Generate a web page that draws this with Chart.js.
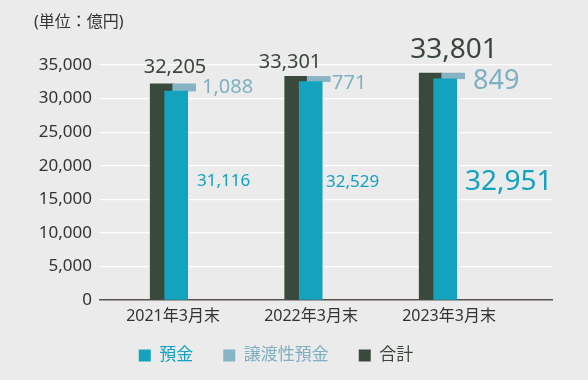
<!DOCTYPE html>
<html><head><meta charset="utf-8">
<script src="https://cdn.jsdelivr.net/npm/chart.js@4"></script>
<style>
html,body{margin:0;padding:0;background:#ebebeb;}
#wrap{width:588px;height:380px;position:relative;background:#ebebeb;}
</style></head>
<body><div id="wrap"><canvas id="c" width="588" height="380"></canvas></div>
<script>
const categories = ['2021年3月末', '2022年3月末', '2023年3月末'];
const deposits = [31116, 32529, 32951];      // 預金
const ncds = [1088, 771, 849];               // 譲渡性預金
const totals = [32205, 33301, 33801];        // 合計
const yTickValues = [0, 5000, 10000, 15000, 20000, 25000, 30000, 35000];
const seriesNames = ['預金', '譲渡性預金', '合計'];
const unitTitle = '(単位：億円)';

// styles (kept apart from data)
const colors = ['#14a3bf', '#87b3c4', '#394a3c'];
const textColors = ['#14a3bf', '#7fb0c2', '#39463b'];
const barShift = [-0.5, 7.5, -15];           // px shift of each series' bars from group centre
const totalFont = [20, 20, 28], totalDx = [2, -21, 5], totalDy = [-16, -14, -23];
const ncdFont = [20, 20, 27], ncdDx = [29, 21, 24], ncdDy = [4, 6.5, 8];
const depFont = [17, 17, 28], depDx = [24, 15, 16], depDy = [-14, -9, -7];
const FONT = '"Noto Sans", "Noto Sans CJK JP", sans-serif';

const fmt = v => v.toLocaleString('en-US');

const shiftPlugin = {
  id: 'shift',
  afterDatasetsUpdate(chart) {
    chart.data.datasets.forEach((ds, i) => {
      chart.getDatasetMeta(i).data.forEach(el => { el.x += barShift[i]; });
    });
  }
};

const labelPlugin = {
  id: 'vlabels',
  afterDatasetsDraw(chart) {
    const ctx = chart.ctx, xs = chart.scales.x, ys = chart.scales.y;
    ctx.save();
    ctx.textBaseline = 'middle';
    categories.forEach((c, i) => {
      const cx = xs.getPixelForValue(i);
      ctx.font = totalFont[i] + 'px ' + FONT;
      ctx.fillStyle = textColors[2];
      ctx.textAlign = 'center';
      ctx.fillText(fmt(totals[i]), cx + totalDx[i], ys.getPixelForValue(totals[i]) + totalDy[i]);
      ctx.font = ncdFont[i] + 'px ' + FONT;
      ctx.fillStyle = textColors[1];
      ctx.textAlign = 'left';
      ctx.fillText(fmt(ncds[i]), cx + ncdDx[i], ys.getPixelForValue(deposits[i] + ncds[i]) + ncdDy[i]);
      ctx.font = depFont[i] + 'px ' + FONT;
      ctx.fillStyle = textColors[0];
      ctx.fillText(fmt(deposits[i]), cx + depDx[i], ys.getPixelForValue(deposits[i] / 2) + depDy[i]);
    });
    ctx.font = '16px ' + FONT;
    ctx.fillStyle = '#333';
    ctx.textAlign = 'left';
    ctx.fillText(unitTitle, 34, 22);
    ctx.restore();
  }
};

new Chart(document.getElementById('c'), {
  type: 'bar',
  data: {
    datasets: [
      { label: seriesNames[0], xAxisID: 'xb', data: deposits.map((v, i) => ({ x: i, y: v })), backgroundColor: colors[0], stack: 'dep' },
      { label: seriesNames[1], xAxisID: 'xb', data: ncds.map((v, i) => ({ x: i, y: v })), backgroundColor: colors[1], stack: 'dep' },
      { label: seriesNames[2], xAxisID: 'xb', data: totals.map((v, i) => ({ x: i, y: v })), backgroundColor: colors[2], stack: 'tot' }
    ]
  },
  plugins: [shiftPlugin, labelPlugin],
  options: {
    responsive: false,
    animation: false,
    grouped: false,
    barThickness: 23,
    layout: { padding: { top: 65, right: 36, left: 0, bottom: 6 } },
    scales: {
      x: {
        type: 'linear',
        position: 'bottom',
        offset: false,
        min: -0.529, max: 2.746,
        afterBuildTicks: s => { s.ticks = categories.map((c, i) => ({ value: i })); },
        afterFit: s => { s.height = 17; },
        afterUpdate: s => { s._computeLabelArea = () => undefined; },
        ticks: { callback: v => categories[v], color: '#333', font: { family: FONT, size: 16 }, padding: 7, maxRotation: 0, autoSkip: false },
        grid: { display: false, drawTicks: false },
        border: { display: true, color: '#5a5250', width: 1.5 }
      },
      xb: {
        type: 'linear',
        position: 'bottom',
        display: false,
        offset: false,
        min: -0.5703, max: 2.7903
      },
      y: {
        stacked: true,
        min: 0, max: 35000,
        afterBuildTicks: s => { s.ticks = yTickValues.map(v => ({ value: v })); },
        afterFit: s => { s.width = 100; },
        ticks: { callback: v => fmt(v), color: '#333', font: { family: FONT, size: 17 }, padding: 8 },
        grid: { color: ctx => ctx.tick && ctx.tick.value === 0 ? 'rgba(0,0,0,0)' : '#ffffff', lineWidth: 1.2, drawTicks: false },
        border: { display: false }
      }
    },
    plugins: {
      legend: {
        position: 'bottom',
        labels: {
          boxWidth: 12, boxHeight: 12, padding: 30,
          font: { family: FONT, size: 17 },
          generateLabels: chart => Chart.defaults.plugins.legend.labels.generateLabels(chart).map((it, i) => Object.assign(it, { fontColor: textColors[i], lineWidth: 0, strokeStyle: 'rgba(0,0,0,0)' }))
        }
      },
      tooltip: { enabled: false }
    }
  }
});
</script></body></html>
